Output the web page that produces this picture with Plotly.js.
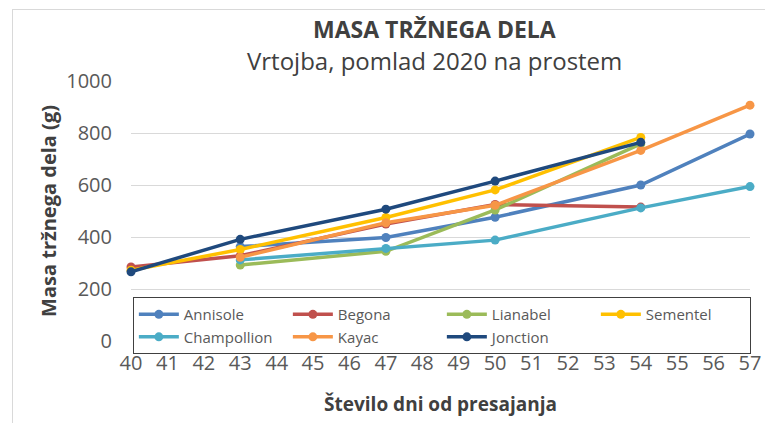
<!DOCTYPE html>
<html>
<head>
<meta charset="utf-8">
<script src="https://cdn.plot.ly/plotly-3.0.1.min.js"></script>
<style>
  html, body { margin: 0; padding: 0; background: #fff; }
  #chart { width: 765px; height: 423px; }
  #frame { position: absolute; left: 12px; top: 9px; width: 770px; height: 430px; border: 1px solid #d9d9d9; pointer-events: none; }
</style>
</head>
<body>
<div id="chart"></div>
<div id="frame"></div>
<script>
const seriesNames = ["Annisole", "Begona", "Lianabel", "Sementel", "Champollion", "Kayac", "Jonction"];
const seriesColors = ["#4F81BD", "#C0504D", "#9BBB59", "#FFC000", "#4BACC6", "#F79646", "#1F497D"];

const annisoleX = [43, 47, 50, 54, 57];
const annisoleY = [363, 398, 476, 600, 796];
const begonaX = [40, 43, 47, 50, 54];
const begonaY = [285, 328, 450, 525, 515];
const lianabelX = [43, 47, 50, 54];
const lianabelY = [292, 345, 504, 758];
const sementelX = [40, 43, 47, 50, 54];
const sementelY = [272, 352, 475, 581, 783];
const champollionX = [43, 47, 50, 54, 57];
const champollionY = [312, 356, 388, 512, 594];
const kayacX = [43, 47, 50, 54, 57];
const kayacY = [322, 455, 522, 733, 907];
const jonctionX = [40, 43, 47, 50, 54];
const jonctionY = [266, 391, 507, 615, 764];

const xs = [annisoleX, begonaX, lianabelX, sementelX, champollionX, kayacX, jonctionX];
const ys = [annisoleY, begonaY, lianabelY, sementelY, champollionY, kayacY, jonctionY];

const xTicks = [40,41,42,43,44,45,46,47,48,49,50,51,52,53,54,55,56,57];
const yTicks = [0, 200, 400, 600, 800, 1000];

const titleText = "MASA TRŽNEGA DELA";
const subtitleText = "Vrtojba, pomlad 2020 na prostem";
const xTitle = "Število dni od presajanja";
const yTitle = "Masa tržnega dela (g)";

const font = "Open Sans, Noto Sans, sans-serif";

const traces = seriesNames.map((n, i) => ({
  type: "scatter",
  mode: "lines+markers",
  name: n,
  x: xs[i],
  y: ys[i],
  line: { color: seriesColors[i], width: 3.5 },
  marker: { color: seriesColors[i], size: 9 },
  cliponaxis: false
}));

const layout = {
  width: 765,
  height: 423,
  margin: { l: 131, r: 15, t: 81, b: 82 },
  paper_bgcolor: "#fff",
  plot_bgcolor: "#fff",
  font: { family: font, color: "#595959" },
  annotations: [
    { text: "<b>" + titleText + "</b>", xref: "paper", yref: "paper", x: 0.49, y: 1.2,
      xanchor: "center", yanchor: "middle", showarrow: false,
      font: { family: font, size: 23, color: "#404040" } },
    { text: subtitleText, xref: "paper", yref: "paper", x: 0.49, y: 1.08,
      xanchor: "center", yanchor: "middle", showarrow: false,
      font: { family: font, size: 24, color: "#404040" } }
  ],
  xaxis: {
    range: [40, 57],
    tickvals: xTicks,
    ticktext: xTicks.map(String),
    showgrid: false,
    zeroline: false,
    showline: false,
    ticks: "",
    ticklabelstandoff: 8,
    tickfont: { size: 20, color: "#595959", family: font },
    title: { text: "<b>" + xTitle + "</b>", font: { size: 19, color: "#404040", family: font }, standoff: 22 }
  },
  yaxis: {
    range: [0, 1000],
    tickvals: yTicks,
    ticktext: yTicks.map(String),
    showgrid: true,
    gridcolor: "#d9d9d9",
    gridwidth: 1,
    zeroline: false,
    showline: false,
    ticks: "",
    ticklabelstandoff: 18,
    tickfont: { size: 20, color: "#595959", family: font },
    title: { text: "<b>" + yTitle + "</b>", font: { size: 20, color: "#404040", family: font }, standoff: 4 }
  },
  legend: {
    orientation: "h",
    x: 0.003, xanchor: "left",
    y: 0.169, yanchor: "top",
    bgcolor: "#fff",
    bordercolor: "#404040",
    borderwidth: 1,
    entrywidth: 99,
    font: { size: 15, color: "#595959", family: font },
    tracegroupgap: 0,
    itemwidth: 40
  },
  showlegend: true
};

Plotly.newPlot("chart", traces, layout, { displayModeBar: false, staticPlot: true });
</script>
</body>
</html>
